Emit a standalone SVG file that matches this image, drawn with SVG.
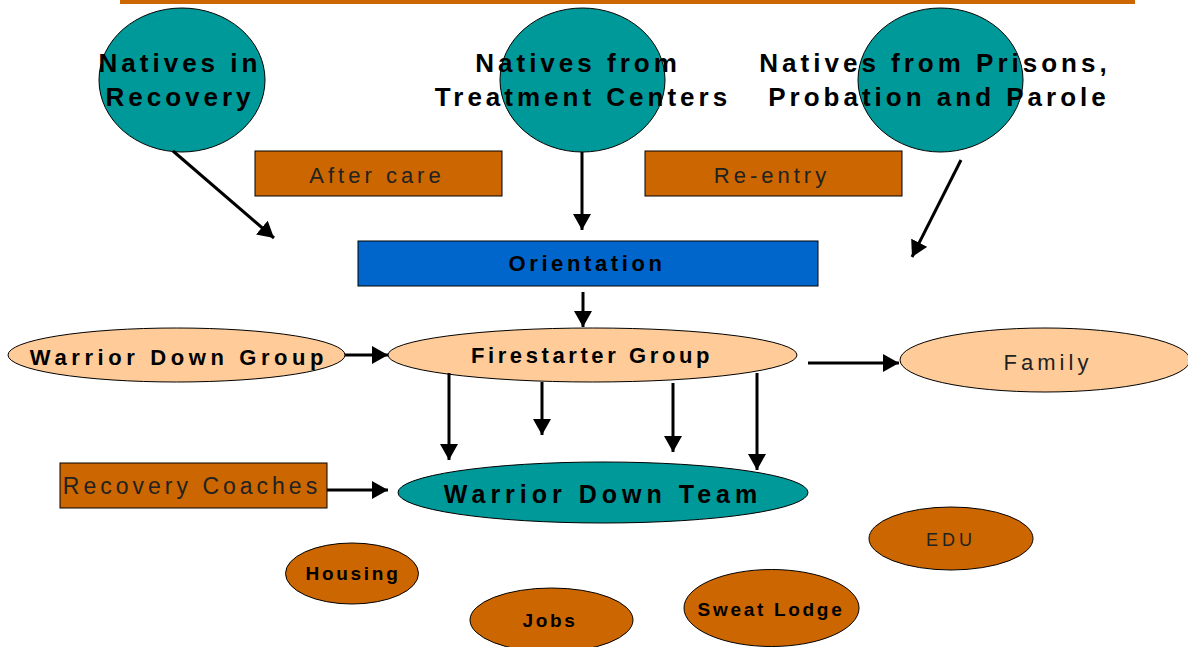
<svg xmlns="http://www.w3.org/2000/svg" width="1188" height="647" viewBox="0 0 1188 647">
<defs>
<marker id="ah" markerUnits="userSpaceOnUse" markerWidth="16" markerHeight="18" refX="16" refY="9" orient="auto">
<path d="M0,0 L16,9 L0,18 z" fill="#000"/>
</marker>
<style>
.teal{fill:#009999;stroke:#000;stroke-width:1}
.peach{fill:#FFCC99;stroke:#000;stroke-width:1}
.org{fill:#CC6600;stroke:#000;stroke-width:1}
.blue{fill:#0066CC;stroke:#000;stroke-width:1}
.t{font-family:"Liberation Sans",Arial,sans-serif;text-anchor:middle;fill:#000}
.big{font-size:26px;font-weight:bold;letter-spacing:4px}
.reg{font-size:22px;letter-spacing:4px;fill:#222}
.mid{font-size:22px;font-weight:bold;letter-spacing:3.6px}
.sm{font-size:19px;font-weight:bold;letter-spacing:2.7px}
.edu{font-size:18px;letter-spacing:4px;fill:#222}
.con line{stroke:#000;stroke-width:3;marker-end:url(#ah)}
</style>
</defs>
<rect x="120" y="0" width="1015" height="4" fill="#CC6600"/>

<g id="n-recovery">
<ellipse class="teal" cx="182" cy="80" rx="83" ry="72"/>
<text class="t big" x="180" y="72">Natives in</text>
<text class="t big" x="180" y="106">Recovery</text>
</g>
<g id="n-treatment">
<ellipse class="teal" cx="582.5" cy="80" rx="82.5" ry="72"/>
<text class="t big" x="578" y="72">Natives from</text>
<text class="t big" x="583" y="106">Treatment Centers</text>
</g>
<g id="n-prisons">
<ellipse class="teal" cx="940.5" cy="80" rx="82.5" ry="72"/>
<text class="t big" x="935" y="72">Natives from Prisons,</text>
<text class="t big" x="939" y="106">Probation and Parole</text>
</g>
<g id="n-aftercare">
<rect class="org" x="255" y="151" width="247" height="45"/>
<text class="t reg" x="377" y="183">After care</text>
</g>
<g id="n-reentry">
<rect class="org" x="645" y="151" width="257" height="45"/>
<text class="t reg" x="772" y="183">Re-entry</text>
</g>
<g id="n-orientation">
<rect class="blue" x="358" y="241" width="460" height="45"/>
<text class="t mid" x="587" y="271">Orientation</text>
</g>
<g id="n-wdgroup">
<ellipse class="peach" cx="176.5" cy="355" rx="168.5" ry="27"/>
<text class="t mid" style="letter-spacing:4.6px" x="179" y="365">Warrior Down Group</text>
</g>
<g id="n-firestarter">
<ellipse class="peach" cx="592.5" cy="355" rx="204.5" ry="27"/>
<text class="t mid" x="592" y="363">Firestarter Group</text>
</g>
<g id="n-family">
<ellipse class="peach" cx="1045" cy="360" rx="145" ry="32"/>
<text class="t reg" x="1048" y="370">Family</text>
</g>
<g id="n-wdteam">
<ellipse class="teal" cx="603" cy="492.5" rx="205" ry="30.5"/>
<text class="t big" style="font-size:25px;letter-spacing:5px" x="603" y="503">Warrior Down Team</text>
</g>
<g id="n-coaches">
<rect class="org" x="60" y="463" width="267" height="45"/>
<text class="t reg" style="font-size:23px" x="192" y="494">Recovery Coaches</text>
</g>
<g id="n-housing">
<ellipse class="org" cx="352" cy="573.5" rx="66.5" ry="30.5"/>
<text class="t sm" x="353" y="580">Housing</text>
</g>
<g id="n-jobs">
<ellipse class="org" cx="551.5" cy="620" rx="81.5" ry="32"/>
<text class="t sm" x="550" y="627">Jobs</text>
</g>
<g id="n-sweat">
<ellipse class="org" cx="771.5" cy="608" rx="87.5" ry="38.5"/>
<text class="t sm" x="771" y="616">Sweat Lodge</text>
</g>
<g id="n-edu">
<ellipse class="org" cx="951" cy="538.5" rx="82" ry="31.5"/>
<text class="t edu" x="951" y="546">EDU</text>
</g>

<g id="connectors" class="con">
<line x1="173" y1="151" x2="274" y2="238"/>
<line x1="582" y1="152" x2="582" y2="230"/>
<line x1="961" y1="160" x2="912" y2="257"/>
<line x1="583" y1="292" x2="583" y2="327"/>
<line x1="345" y1="355" x2="388" y2="355"/>
<line x1="808" y1="363" x2="899" y2="363"/>
<line x1="449" y1="373" x2="449" y2="460"/>
<line x1="542" y1="382" x2="542" y2="435"/>
<line x1="673" y1="383" x2="673" y2="452"/>
<line x1="757" y1="373" x2="757" y2="470"/>
<line x1="327" y1="490" x2="388" y2="490"/>
</g>
</svg>
